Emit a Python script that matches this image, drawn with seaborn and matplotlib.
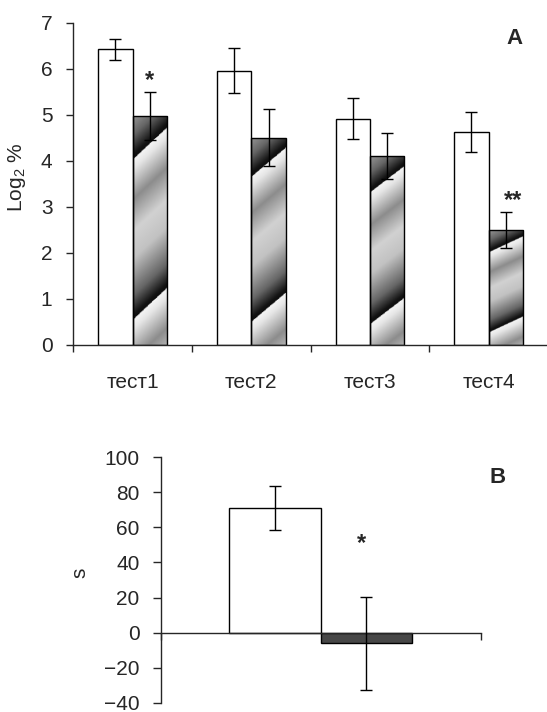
import numpy as np
import pandas as pd
import matplotlib
matplotlib.use("Agg")
import matplotlib.pyplot as plt
import seaborn as sns

# ---- data ----
tests = ["тест1", "тест2", "тест3", "тест4"]
ctrl_vals = [6.43, 5.96, 4.92, 4.63]
ctrl_err = [0.23, 0.49, 0.45, 0.44]
exp_vals = [4.98, 4.51, 4.10, 2.50]
exp_err = [0.53, 0.62, 0.50, 0.39]
sig_a = ["*", "", "", "**"]

b_groups = ["контроль", "опыт"]
b_vals = [71.0, -6.0]
b_err = [12.5, 26.4]
sig_b = ["", "*"]

sns.set_style("ticks")
plt.rcParams["font.family"] = ["Liberation Sans", "DejaVu Sans"]
plt.rcParams["mathtext.fontset"] = "custom"
plt.rcParams["mathtext.rm"] = "Liberation Sans"
plt.rcParams["mathtext.it"] = "Liberation Sans:italic"
plt.rcParams["axes.linewidth"] = 1.0

fig = plt.figure(figsize=(5.47, 7.12), dpi=100)
W, H = 547, 712

def frac(l, r, t, b):
    return [l / W, 1 - b / H, (r - l) / W, (b - t) / H]

# ---------------- panel A ----------------
axA = fig.add_axes(frac(73.3, 548, 23, 345))
dfA = pd.DataFrame({
    "test": tests * 2,
    "group": ["ctrl"] * 4 + ["exp"] * 4,
    "value": ctrl_vals + exp_vals,
})
sns.barplot(data=dfA, x="test", y="value", hue="group",
            palette={"ctrl": "white", "exp": "white"}, saturation=1,
            edgecolor="black", linewidth=1.0, width=0.58,
            errorbar=None, legend=False, ax=axA)

# gradient diagonal-stripe texture for the experimental bars
def stripe_texture(rows=240, cols=60):
    u = np.linspace(0, 1, cols)[None, :]
    v = np.linspace(0, 1, rows)[:, None]
    edge = 0.19 - 0.14 * u
    p = np.mod((v - edge) / 0.70, 1.0)
    xs = [0.0, 0.06, 0.25, 0.45, 0.62, 0.85, 0.97, 1.0]
    ys = [0.96, 0.90, 0.55, 0.82, 0.76, 0.40, 0.08, 0.05]
    return np.interp(p, xs, ys)

tex = stripe_texture()
for patch in axA.containers[1]:
    x0, y0 = patch.get_x(), patch.get_y()
    w, h = patch.get_width(), patch.get_height()
    patch.set_facecolor("none")
    im = axA.imshow(tex, extent=[x0, x0 + w, y0, y0 + h], origin="upper",
                    aspect="auto", cmap="gray", vmin=0, vmax=1,
                    interpolation="bilinear", zorder=0.5)
    im.set_clip_path(patch)

for cont, vals, errs in [(axA.containers[0], ctrl_vals, ctrl_err),
                         (axA.containers[1], exp_vals, exp_err)]:
    xs = [p.get_x() + p.get_width() / 2 for p in cont]
    axA.errorbar(xs, vals, yerr=errs, fmt="none", ecolor="black",
                 elinewidth=1.0, capsize=4, capthick=1.0, zorder=5)

for p, s, v, e in zip(axA.containers[1], sig_a, exp_vals, exp_err):
    if s:
        cx = p.get_x() + p.get_width() / 2
        off = 0.0 if len(s) == 1 else 0.06
        axA.text(cx + off, v + e + 0.25, s, ha="center", va="center",
                 fontsize=17, fontweight="bold")

axA.set_xlim(-0.5, 3.5)
axA.set_ylim(0, 7)
axA.set_yticks(range(0, 8))
axA.tick_params(axis="y", labelsize=15, length=5, width=1.0, pad=10, direction="out")
axA.set_xticks(range(4))
axA.set_xticklabels(tests)
axA.set_xticks([-0.5, 0.5, 1.5, 2.5], minor=True)
axA.tick_params(axis="x", which="major", length=0, labelsize=15, pad=20)
axA.tick_params(axis="x", which="minor", length=5, width=1.0, direction="out")
axA.set_xlabel("")
axA.set_ylabel("Log$_\\mathregular{2}$ %", fontsize=15)
axA.yaxis.set_label_coords(-0.095, 0.52)
sns.despine(ax=axA)
axA.text(3.22, 6.67, "A", ha="center", va="center", fontsize=16, fontweight="bold")

# ---------------- panel B ----------------
axB = fig.add_axes(frac(160.5, 480.8, 457, 703))
dfB = pd.DataFrame({"cat": ["s", "s"], "group": b_groups, "value": b_vals})
sns.barplot(data=dfB, x="cat", y="value", hue="group",
            palette={b_groups[0]: "white", b_groups[1]: "#474747"}, saturation=1,
            edgecolor="black", linewidth=1.0, width=0.57,
            errorbar=None, legend=False, ax=axB)
xsB = [c[0].get_x() + c[0].get_width() / 2 for c in axB.containers]
axB.errorbar(xsB, b_vals, yerr=b_err, fmt="none", ecolor="black",
             elinewidth=1.0, capsize=4, capthick=1.0, zorder=5)
for x, s in zip(xsB, sig_b):
    if s:
        axB.text(x - 0.015, 50.6, s, ha="center", va="center",
                 fontsize=17, fontweight="bold")

axB.set_xlim(-0.5, 0.5)
axB.set_ylim(-40, 100)
axB.set_yticks(range(-40, 101, 20))
axB.tick_params(axis="y", labelsize=15, length=6, width=1.0, pad=9, direction="out")
axB.set_xticks([])
axB.set_xticks([-0.5, 0.5], minor=True)
axB.tick_params(axis="x", which="minor", length=5, width=1.0, direction="out",
                labelbottom=False)
axB.set_xlabel("")
axB.set_ylabel("s", fontsize=15)
axB.yaxis.set_label_coords(-0.223, 0.53)
sns.despine(ax=axB)
axB.spines["bottom"].set_position(("data", 0))
axB.text(0.553, 88.2, "B", ha="center", va="center", fontsize=16,
         fontweight="bold", clip_on=False)

fig.savefig("out.png", dpi=100)
